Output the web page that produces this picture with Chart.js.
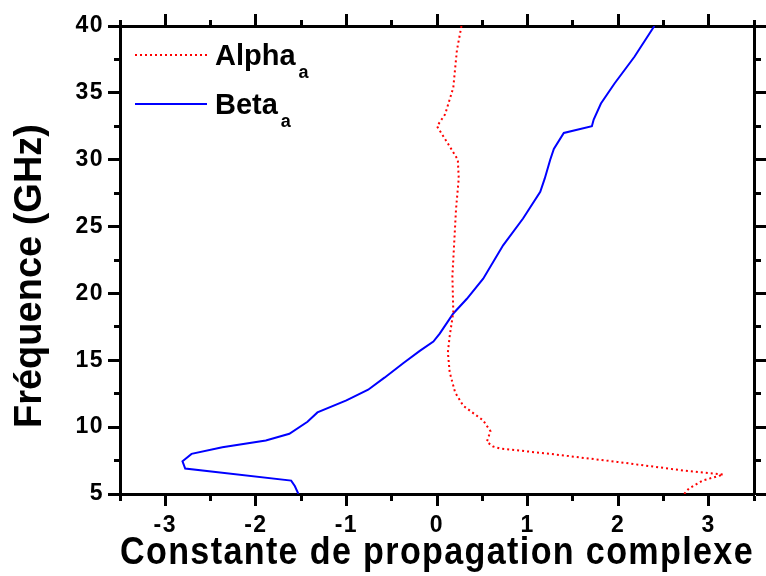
<!DOCTYPE html>
<html>
<head>
<meta charset="utf-8">
<script src="https://cdn.jsdelivr.net/npm/chart.js@4/dist/chart.umd.min.js"></script>
<style>
  html, body { margin: 0; padding: 0; background: #fff; }
</style>
</head>
<body>
<canvas id="myChart" width="766" height="576"></canvas>
<script>
// values
var alphaFreq = [5, 5.4, 6.0, 6.45, 6.75, 7.4, 8.0, 8.4, 8.55, 8.9, 9.7, 10.5, 11.6, 12.6, 14.1, 15.6, 16.8, 18.6, 21.3, 23.8, 26.3, 28.6, 30.0, 31.0, 32.5, 33.4, 35.4, 38.2, 40];
var alphaVals = [2.73, 2.78, 2.93, 3.16, 2.73, 1.99, 1.25, 0.70, 0.62, 0.55, 0.59, 0.51, 0.29, 0.20, 0.14, 0.12, 0.14, 0.18, 0.17, 0.19, 0.21, 0.24, 0.23, 0.14, 0.0, 0.09, 0.18, 0.22, 0.27];

var betaFreq = [5, 5.6, 6.0, 6.9, 7.45, 8.0, 8.5, 9.0, 9.5, 10.4, 11.1, 12.0, 12.8, 13.7, 14.8, 15.7, 16.4, 17.0, 18.5, 19.6, 21.1, 23.6, 25.6, 27.6, 28.6, 30.0, 30.8, 32.0, 32.5, 33.0, 34.2, 35.7, 37.7, 40];
var betaVals = [-1.53, -1.57, -1.61, -2.78, -2.81, -2.71, -2.37, -1.89, -1.63, -1.43, -1.32, -1.0, -0.76, -0.58, -0.37, -0.19, -0.04, 0.03, 0.18, 0.33, 0.51, 0.73, 0.95, 1.14, 1.19, 1.25, 1.29, 1.40, 1.71, 1.73, 1.81, 1.96, 2.18, 2.40];

var seriesNames = ['Alpha', 'Beta'];
var seriesSub = 'a';
var xTickLabels = [-3, -2, -1, 0, 1, 2, 3];
var yTickLabels = [5, 10, 15, 20, 25, 30, 35, 40];
var xTitle = 'Constante de propagation complexe';
var yTitle = 'Fréquence (GHz)';

function toPoints(xs, ys) {
  return xs.map(function (v, i) { return { x: v, y: ys[i] }; });
}
function isIn(list, v) {
  return list.some(function (t) { return Math.abs(t - v) < 1e-6; });
}

var FONT = 'Liberation Sans';

// minor ticks half length; dash starts at axis (bottom/right) or outside (top/left)
function tickDash(list, fromAxis) {
  return function (c) {
    if (!c.tick || isIn(list, c.tick.value)) return [];
    return fromAxis ? [5, 50] : [0, 6, 5, 50];
  };
}
function gridOpts(list, fromAxis) {
  return {
    drawOnChartArea: false,
    tickLength: 12,
    tickWidth: 3,
    tickColor: '#000',
    tickBorderDash: tickDash(list, fromAxis)
  };
}
var borderOpts = { display: true, width: 3, color: '#000' };

// the original text is a bit wide, widen the library's text a little
var wideText = {
  id: 'wideText',
  beforeDraw: function (chart) {
    chart.ctx.letterSpacing = '1.5px';
  }
};

var extras = {
  id: 'extras',
  afterDatasetsDraw: function (chart) {
    var ctx = chart.ctx, area = chart.chartArea;
    var x0 = area.left + 15, x1 = area.left + 87;
    seriesNames.forEach(function (name, i) {
      var ds = chart.data.datasets[i];
      var y = area.top + 29 + i * 49;
      ctx.save();
      ctx.letterSpacing = '0px';
      ctx.strokeStyle = ds.borderColor;
      ctx.lineWidth = ds.borderWidth;
      ctx.setLineDash(ds.borderDash || []);
      ctx.beginPath();
      ctx.moveTo(x0, y);
      ctx.lineTo(x1, y);
      ctx.stroke();
      ctx.setLineDash([]);
      ctx.fillStyle = '#000';
      ctx.textBaseline = 'alphabetic';
      ctx.textAlign = 'left';
      ctx.font = 'bold 29px "' + FONT + '"';
      var tx = x1 + 8;
      ctx.fillText(name, tx, y + 10);
      var w = ctx.measureText(name).width;
      ctx.font = 'bold 18px "' + FONT + '"';
      ctx.fillText(seriesSub, tx + w + 3, y + 23);
      ctx.restore();
    });

    // y axis title, sits a little below the middle of the axis
    ctx.save();
    ctx.letterSpacing = '0px';
    ctx.translate(31, (area.top + area.bottom) / 2 + 16);
    ctx.rotate(-Math.PI / 2);
    ctx.fillStyle = '#000';
    ctx.textAlign = 'center';
    ctx.textBaseline = 'middle';
    ctx.font = 'bold 38px "' + FONT + '"';
    ctx.fillText(yTitle, 0, 0);
    ctx.restore();
  }
};

var ctx = document.getElementById('myChart').getContext('2d');
new Chart(ctx, {
  type: 'scatter',
  data: {
    datasets: [{
      label: seriesNames[0],
      data: toPoints(alphaVals, alphaFreq),
      showLine: true,
      borderColor: '#ff0000',
      borderWidth: 2,
      borderDash: [2, 3],
      pointRadius: 0,
      tension: 0
    }, {
      label: seriesNames[1],
      data: toPoints(betaVals, betaFreq),
      showLine: true,
      borderColor: '#0000ff',
      borderWidth: 2,
      pointRadius: 0,
      tension: 0
    }]
  },
  options: {
    responsive: false,
    animation: false,
    devicePixelRatio: 1,
    layout: { padding: { top: 14, right: 0, left: 0, bottom: 0 } },
    plugins: {
      legend: { display: false },
      tooltip: { enabled: false }
    },
    scales: {
      x: {
        type: 'linear',
        position: 'bottom',
        min: -3.5,
        max: 3.5,
        ticks: {
          stepSize: 0.5,
          autoSkip: false,
          maxRotation: 0,
          padding: 6,
          color: '#000',
          font: { family: FONT, weight: 'bold', size: 23 },
          callback: function (v) { return isIn(xTickLabels, v) ? String(Math.round(v)) : ''; }
        },
        grid: gridOpts(xTickLabels, true),
        border: borderOpts,
        title: {
          display: true,
          text: xTitle,
          color: '#000',
          padding: { top: 0, bottom: 3 },
          font: { family: FONT, weight: 'bold', size: 38, lineHeight: 1 }
        },
        afterFit: function (s) { s.height = 82; }
      },
      x2: {
        type: 'linear',
        position: 'top',
        min: -3.5,
        max: 3.5,
        ticks: { display: false, stepSize: 0.5 },
        grid: gridOpts(xTickLabels, false),
        border: borderOpts
      },
      y: {
        type: 'linear',
        position: 'left',
        min: 5,
        max: 40,
        ticks: {
          stepSize: 2.5,
          autoSkip: false,
          padding: 4,
          color: '#000',
          font: { family: FONT, weight: 'bold', size: 23 },
          callback: function (v) { return isIn(yTickLabels, v) ? String(Math.round(v)) : ''; }
        },
        grid: gridOpts(yTickLabels, false),
        border: borderOpts,
        title: { display: false },
        afterFit: function (s) { s.width = 120; }
      },
      y2: {
        type: 'linear',
        position: 'right',
        min: 5,
        max: 40,
        ticks: { display: false, stepSize: 2.5 },
        grid: gridOpts(yTickLabels, true),
        border: borderOpts
      }
    }
  },
  plugins: [wideText, extras]
});
</script>
</body>
</html>
